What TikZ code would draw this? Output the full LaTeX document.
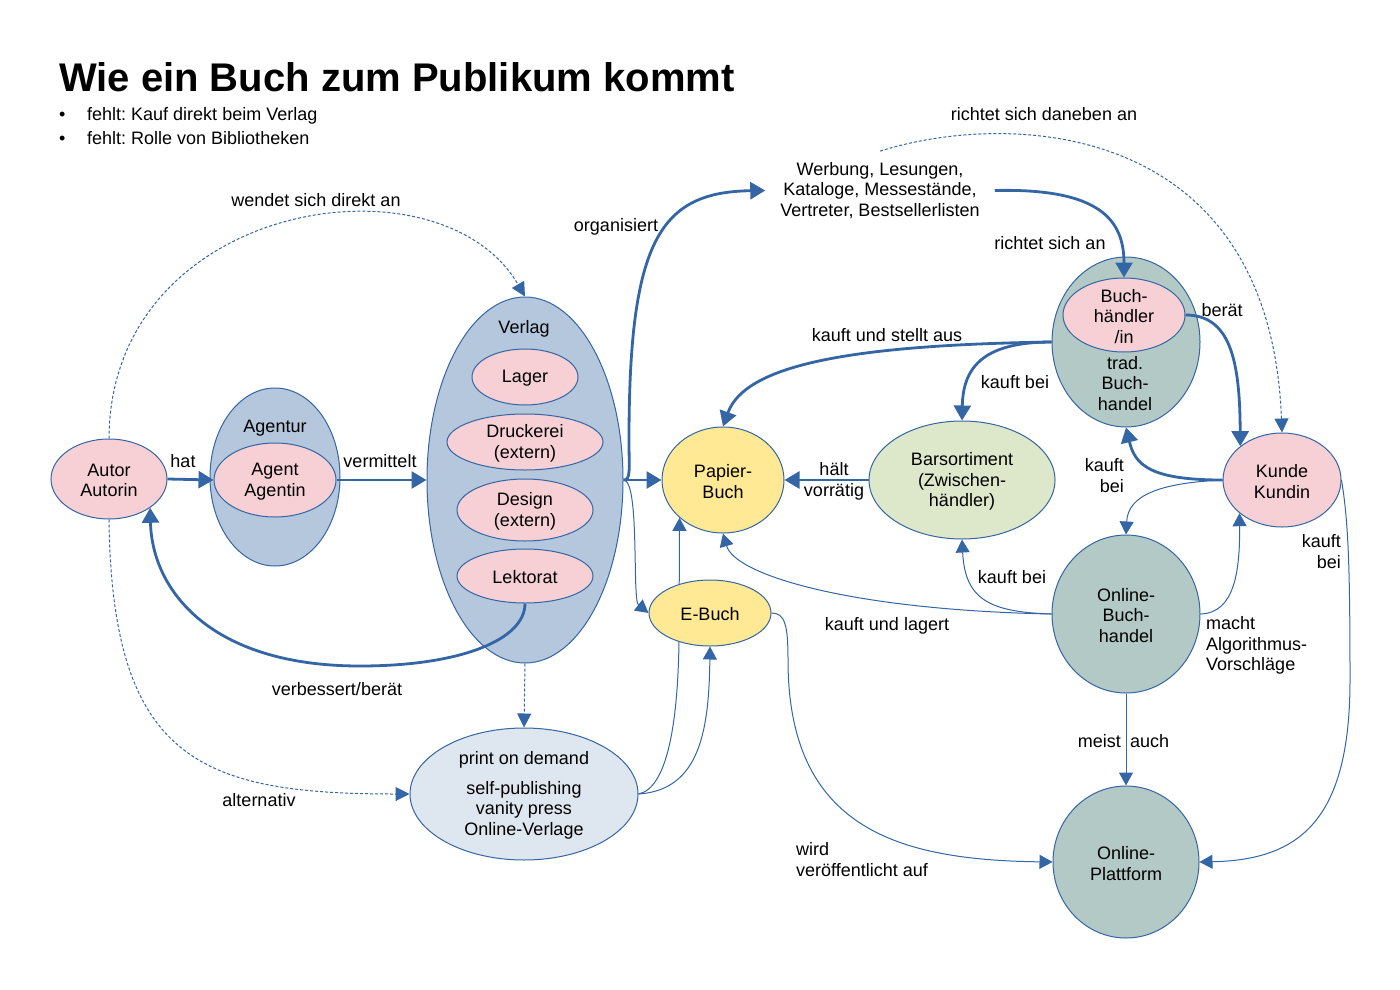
\documentclass[tikz,border=0pt]{standalone}
\usepackage{fontspec}
\setmainfont{Liberation Sans}
\usetikzlibrary{shapes.geometric,arrows.meta,backgrounds}
\definecolor{lb}{HTML}{3465A4}
\definecolor{pinkc}{HTML}{F6D0D5}
\definecolor{bluec}{HTML}{B4C7DC}
\definecolor{yellc}{HTML}{FFE994}
\definecolor{greenc}{HTML}{DDE8CB}
\definecolor{tealc}{HTML}{B3C9C6}
\definecolor{podc}{HTML}{DEE6EF}
\frenchspacing
\begin{document}
\begin{tikzpicture}[x=1pt,y=-1pt,
  every node/.style={font=\fontsize{18pt}{20.5pt}\selectfont},
  ell/.style={ellipse, draw=lb, line width=1pt, inner sep=0pt},
  lbl/.style={inner sep=0pt, align=center, yshift=-1.5pt},
  thickarr/.style={draw=lb, line width=2.8pt, -{Triangle[length=15pt,width=17pt]}},
  thinarr/.style={draw=lb, line width=1pt, -{Triangle[length=13pt,width=14pt]}},
  dasharr/.style={draw=lb, line width=1pt, dash pattern=on 3pt off 2pt, -{Triangle[length=14pt,width=14pt]}}]
\useasboundingbox (0,0) rectangle (1400,990);

% title and notes
\node[anchor=base west, inner sep=0pt, font=\fontsize{40pt}{48pt}\selectfont\bfseries] (title) at (59,92) {Wie ein Buch zum Publikum kommt};
\node[anchor=base west, inner sep=0pt] (bul1) at (59,120) {•};
\node[anchor=base west, inner sep=0pt] (txt1) at (87,120) {fehlt: Kauf direkt beim Verlag};
\node[anchor=base west, inner sep=0pt] (bul2) at (59,144) {•};
\node[anchor=base west, inner sep=0pt] (txt2) at (87,144) {fehlt: Rolle von Bibliotheken};

% containers
\node[ell, fill=bluec, minimum width=130pt, minimum height=178pt] (agentur) at (275,477) {};
\node[lbl] (agenturlbl) at (275,427) {Agentur};
\node[ell, fill=bluec, minimum width=196pt, minimum height=366pt] (verlag) at (525,480) {};
\node[lbl] (verlaglbl) at (524,327) {Verlag};
\node[ell, fill=tealc, minimum width=148pt, minimum height=170pt] (trad) at (1126,342) {};
\node[lbl] (tradlbl) at (1125,382) {trad.\\Buch-\\handel};

% nodes
\node[ell, fill=pinkc, minimum width=116pt, minimum height=80pt, label={[lbl]center:Autor\\Autorin}] (autor) at (109,479) {};
\node[ell, fill=pinkc, minimum width=122pt, minimum height=74pt, label={[lbl]center:Agent\\Agentin}] (agent) at (275,480) {};
\node[ell, fill=pinkc, minimum width=106pt, minimum height=56pt, label={[lbl]center:Lager}] (lager) at (525,377) {};
\node[ell, fill=pinkc, minimum width=156pt, minimum height=56pt, label={[lbl]center:Druckerei\\(extern)}] (druck) at (525,442) {};
\node[ell, fill=pinkc, minimum width=136pt, minimum height=62pt, label={[lbl]center:Design\\(extern)}] (design) at (525,510) {};
\node[ell, fill=pinkc, minimum width=136pt, minimum height=54pt, label={[lbl]center:Lektorat}] (lektorat) at (525,576) {};
\node[ell, fill=yellc, minimum width=122pt, minimum height=106pt, label={[lbl]center:Papier-\\Buch}] (pbuch) at (723,480) {};
\node[ell, fill=yellc, minimum width=122pt, minimum height=66pt, label={[lbl]center:E-Buch}] (ebuch) at (710,613) {};
\node[ell, fill=greenc, minimum width=186pt, minimum height=118pt, label={[lbl]center:Barsortiment\\(Zwischen-\\händler)}] (bars) at (962,480) {};
\node[ell, fill=pinkc, minimum width=122pt, minimum height=74pt, label={[lbl]center:Buch-\\händler\\/in}] (buchh) at (1124,315) {};
\node[ell, fill=pinkc, minimum width=118pt, minimum height=94pt, label={[lbl]center:Kunde\\Kundin}] (kunde) at (1282,480) {};
\node[ell, fill=tealc, minimum width=148pt, minimum height=158pt, label={[lbl]center:Online-\\Buch-\\handel}] (onlineb) at (1126,614) {};
\node[ell, fill=tealc, minimum width=146pt, minimum height=152pt, label={[lbl]center:Online-\\Plattform}] (plat) at (1126,862) {};
\node[ell, fill=podc, minimum width=228pt, minimum height=132pt, label={[lbl]center:print on demand\\[9pt]self-publishing\\vanity press\\Online-Verlage}] (pod) at (524,794) {};
\node[lbl, inner xsep=15pt, inner ysep=11pt] (werb) at (880,189) {Werbung, Lesungen,\\Kataloge, Messestände,\\Vertreter, Bestsellerlisten};

% edge labels
\node[lbl] (lwendet) at (316,199) {wendet sich direkt an};
\node[lbl] (lhat) at (183,460) {hat};
\node[lbl] (lverm) at (380,460) {vermittelt};
\node[lbl] (lorg) at (616,225) {organisiert};
\node[lbl] (ldaneben) at (1044,113) {richtet sich daneben an};
\node[lbl] (lrichtet) at (1050,242) {richtet sich an};
\node[lbl] (lstellt) at (887,334) {kauft und stellt aus};
\node[lbl] (lkbA) at (1015,381) {kauft bei};
\node[lbl] (lberat) at (1222,309) {berät};
\node[lbl] (lhalt) at (834,480) {hält\\vorrätig};
\node[lbl, align=right, anchor=east] (lkbB) at (1124,474) {kauft\\bei};
\node[lbl, align=right, anchor=east] (lkbC) at (1341,550) {kauft\\bei};
\node[lbl] (lkbD) at (1012,576) {kauft bei};
\node[lbl] (llagert) at (887,624) {kauft und lagert};
\node[lbl, align=left, anchor=west] (lmacht) at (1206,644) {macht\\Algorithmus-\\Vorschläge};
\node[lbl, anchor=east] (lmeist) at (1121,740) {meist};
\node[lbl, anchor=west] (lauch) at (1130,740) {auch};
\node[lbl, align=left, anchor=west] (lwird) at (796,858) {wird\\veröffentlicht auf};
\node[lbl] (lverb) at (337,688) {verbessert/berät};
\node[lbl] (lalt) at (259,799) {alternativ};

% connectors
\draw[thickarr] (autor.east) -- (agent.west);
\draw[thickarr] (agent.east) -- (verlag.west);
\draw[thickarr] (verlag.east) -- (pbuch.west);
\draw[thickarr] (bars.west) -- (pbuch.east);
\draw[dasharr] (autor.north) .. controls (110,200) and (440,150) .. (verlag.north);
\draw[dasharr] (autor.south) .. controls (112,760) and (200,794) .. (pod.west);
\draw[thickarr] (lektorat.south) .. controls (525,640) and (460,666) .. (360,666) .. controls (210,666) and (152,590) .. (autor.-35);
\draw[dasharr] (verlag.south) -- (pod.north);
\draw[thickarr] (verlag.east) .. controls (631,480) and (629,470) .. (629,440) .. controls (629,240) and (660,192) .. (werb.west);
\draw[thinarr] (verlag.east) .. controls (640,480) and (632,600) .. (ebuch.west);
\draw[thinarr] (pod.east) .. controls (700,790) and (709,730) .. (ebuch.south);
\begin{pgfonlayer}{background}
\draw[thinarr] (pod.east) .. controls (668,788) and (678,720) .. (679,640) -- (pbuch.221.5);
\end{pgfonlayer}
\draw[thickarr] (werb.east) .. controls (1100,188) and (1124,220) .. (buchh.north);
\draw[dasharr] (werb.north) .. controls (1010,110) and (1270,120) .. (kunde.north);
\draw[thickarr] (trad.west) .. controls (850,345) and (745,365) .. (pbuch.north);
\draw[thickarr] (trad.west) .. controls (980,342) and (963,370) .. (bars.north);
\draw[thickarr] (buchh.east) .. controls (1230,315) and (1240,360) .. (kunde.141.8);
\draw[thickarr] (kunde.west) .. controls (1150,480) and (1135,465) .. (trad.south);
\draw[thinarr] (kunde.west) .. controls (1160,483) and (1128,495) .. (onlineb.north);
\draw[thinarr] (onlineb.east) .. controls (1235,613) and (1240,570) .. (kunde.218.2);
\draw[thinarr] (kunde.east) .. controls (1348,520) and (1350,560) .. (1350,680) .. controls (1350,820) and (1300,860) .. (plat.east);
\draw[thinarr] (onlineb.south) -- (plat.north);
\draw[thinarr] (onlineb.west) .. controls (850,610) and (735,575) .. (pbuch.south);
\draw[thinarr] (onlineb.west) .. controls (990,612) and (965,600) .. (bars.south);
\draw[thinarr] (ebuch.east) .. controls (785,613) and (788,625) .. (788,660) .. controls (788,830) and (900,860) .. (plat.west);
\end{tikzpicture}
\end{document}
